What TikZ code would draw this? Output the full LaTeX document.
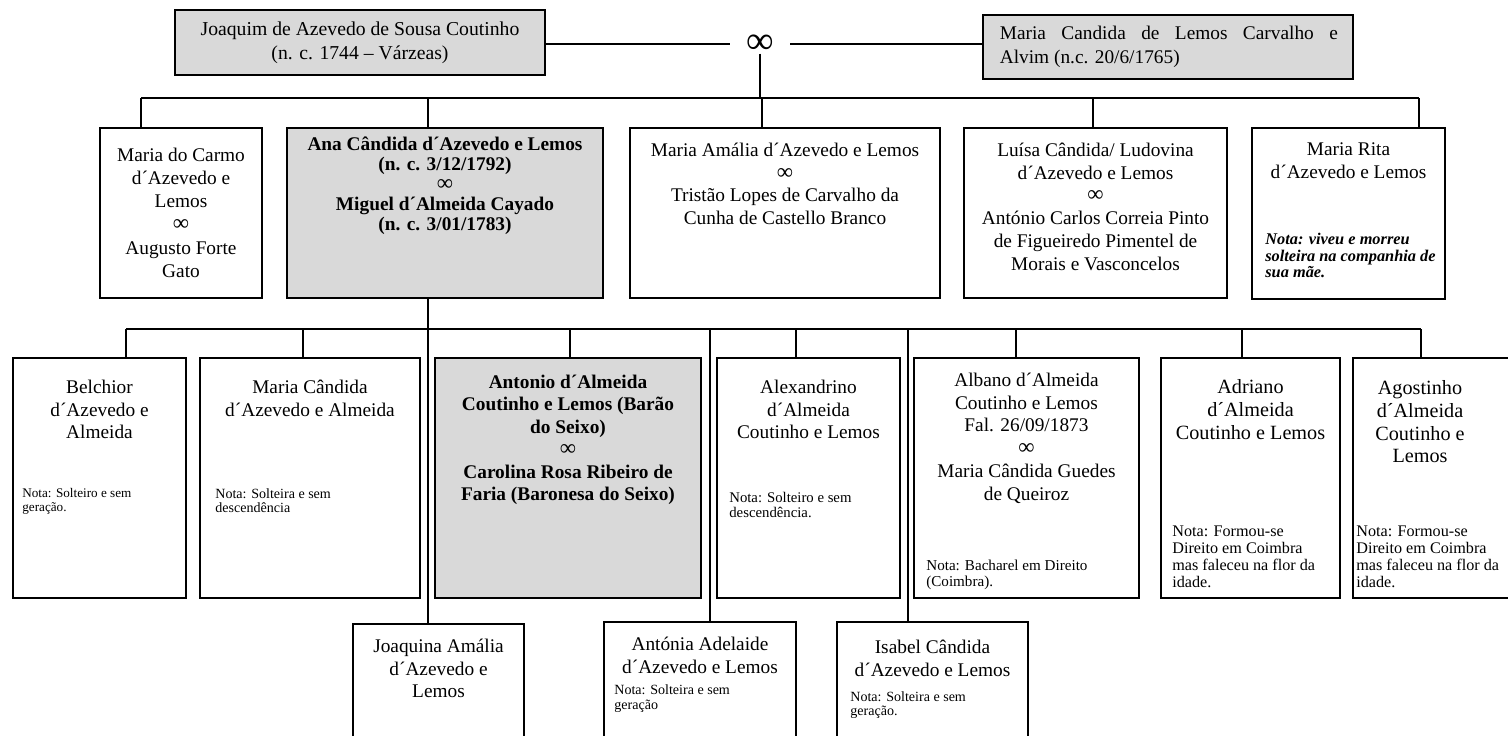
\documentclass[tikz,border=0pt]{standalone}
\usepackage{fontspec}
\setmainfont{Liberation Serif}
\usetikzlibrary{positioning,fit}

\definecolor{boxgray}{HTML}{D9D9D9}
\newcommand\marr{{\mdseries\fontsize{13}{13}\selectfont ∞}}

\begin{document}
\begin{tikzpicture}[
    x=0.2mm, y=-0.2mm,
    person/.style={draw, line width=0.6pt, inner sep=0pt},
    mainline/.style={person, fill=boxgray},
    who/.style={align=center, inner sep=0pt, font=\fontsize{11}{13}\selectfont},
    boldwho/.style={align=center, inner sep=0pt, font=\fontsize{11}{11.4}\selectfont\bfseries},
    nota/.style={align=left, anchor=north west, inner sep=0pt, font=\fontsize{8}{8.4}\selectfont},
    link/.style={line width=1.5pt},
    sublink/.style={line width=1.1pt}
]
\useasboundingbox[fill=white] (0,0) rectangle (1508,735);

% Couple at the top
\node[mainline, fit={(175,10) (545,75)}] (joaquim) {};
\node[who, font=\fontsize{11.2}{13.5}\selectfont] (joaquim-txt) at (joaquim) {Joaquim de Azevedo de Sousa Coutinho\\(n. c. 1744 – Várzeas)};
\node[mainline, fit={(983,15) (1353,79)}] (candida) {};
\node[anchor=west, inner sep=0pt, font=\fontsize{11}{14}\selectfont] (candida-txt) at ([xshift=3.4mm]candida.west)
    {\parbox{67.6mm}{\makebox[67.6mm][s]{Maria Candida de Lemos Carvalho e}\\Alvim (n.c. 20/6/1765)}};
\node[inner xsep=3.2mm, inner ysep=0pt, font=\fontsize{22}{22}\selectfont] (inf) at (760,44) {∞};
\draw[sublink] (joaquim.east |- inf) -- (inf.west);
\draw[sublink] (inf.east) -- (inf.east -| candida.west);

% Children
\coordinate (up-mdc) at (141,98);
\coordinate (up-ana) at (428,98);
\coordinate (up-amalia) at (762,98);
\coordinate (up-luisa) at (1093,98);
\coordinate (up-rita) at (1419,98);

\node[person, fit={(100,128) (262,298)}] (mdc) {};
\node[who, font=\fontsize{11}{13.2}\selectfont, below=4mm of mdc.north] (mdc-txt) {Maria do Carmo\\d´Azevedo e\\Lemos\\\marr\\Augusto Forte\\Gato};
\node[mainline, fit={(287,128) (603,298)}] (ana) {};
\node[boldwho, below=1.8mm of ana.north] (ana-txt) {Ana Cândida d´Azevedo e Lemos\\(n. c. 3/12/1792)\\\marr\\Miguel d´Almeida Cayado\\(n. c. 3/01/1783)};
\node[person, fit={(630,128) (940,298)}] (amalia) {};
\node[who, below=3mm of amalia.north] (amalia-txt) {Maria Amália d´Azevedo e Lemos\\\marr\\Tristão Lopes de Carvalho da\\Cunha de Castello Branco};
\node[person, fit={(964,128) (1227,298)}] (luisa) {};
\node[who, below=3mm of luisa.north] (luisa-txt) {Luísa Cândida/ Ludovina\\d´Azevedo e Lemos\\\marr\\António Carlos Correia Pinto\\de Figueiredo Pimentel de\\Morais e Vasconcelos};
\node[person, fit={(1252,128) (1445,299)}] (rita) {};
\node[who, below=3mm of rita.north] (rita-txt) {Maria Rita\\d´Azevedo e Lemos};
\node[nota, font=\fontsize{9.3}{9.3}\selectfont\bfseries\itshape] (rita-nota) at (1265,233) {Nota: viveu e morreu\\solteira na companhia de\\sua mãe.};

\draw[link] (inf.south) -- (inf.south |- up-amalia);
\draw[link] (up-mdc) -- (up-rita);
\draw[link] (up-mdc) -- (up-mdc |- mdc.north);
\draw[link] (up-ana) -- (up-ana |- ana.north);
\draw[link] (up-amalia) -- (up-amalia |- amalia.north);
\draw[link] (up-luisa) -- (up-luisa |- luisa.north);
\draw[link] (up-rita) -- (up-rita |- rita.north);

% Grandchildren (Ana Candida x Miguel)
\coordinate (down-belchior) at (126,329);
\coordinate (down-mcandida) at (303,329);
\coordinate (down-joaquina) at (428,329);
\coordinate (down-antonio) at (570,329);
\coordinate (down-antonia) at (710,329);
\coordinate (down-alexandrino) at (796,329);
\coordinate (down-isabel) at (908,329);
\coordinate (down-albano) at (1016,329);
\coordinate (down-adriano) at (1242,329);
\coordinate (down-agostinho) at (1421,329);

\node[person, fit={(13,358) (186,598)}] (belchior) {};
\node[who, below=4.4mm of belchior.north] (belchior-txt) {Belchior\\d´Azevedo e\\Almeida};
\node[nota, font=\fontsize{7.5}{8}\selectfont] (belchior-nota) at (22,488) {Nota: Solteiro e sem\\geração.};

\node[person, fit={(200,358) (420,598)}] (mcandida) {};
\node[who, below=4.4mm of mcandida.north] (mcandida-txt) {Maria Cândida\\d´Azevedo e Almeida};
\node[nota] (mcandida-nota) at (215,488) {Nota: Solteira e sem\\descendência};

\node[mainline, fit={(435,358) (701,598)}] (antonio) {};
\node[boldwho, font=\fontsize{11}{12.8}\selectfont\bfseries, below=3.4mm of antonio.north] (antonio-txt) {Antonio d´Almeida\\Coutinho e Lemos (Barão\\do Seixo)\\\marr\\Carolina Rosa Ribeiro de\\Faria (Baronesa do Seixo)};

\node[person, fit={(717,358) (900,598)}] (alexandrino) {};
\node[who, below=4.4mm of alexandrino.north] (alexandrino-txt) {Alexandrino\\d´Almeida\\Coutinho e Lemos};
\node[nota, font=\fontsize{8.4}{8.6}\selectfont] (alexandrino-nota) at (729,492) {Nota: Solteiro e sem\\descendência.};

\node[person, fit={(914,358) (1139,598)}] (albano) {};
\node[who, below=3mm of albano.north] (albano-txt) {Albano d´Almeida\\Coutinho e Lemos\\Fal. 26/09/1873\\\marr\\Maria Cândida Guedes\\de Queiroz};
\node[nota, font=\fontsize{8.6}{9}\selectfont] (albano-nota) at (926,560) {Nota: Bacharel em Direito\\(Coimbra).};

\node[person, fit={(1161,358) (1340,598)}] (adriano) {};
\node[who, font=\fontsize{11.5}{13}\selectfont, below=4.4mm of adriano.north] (adriano-txt) {Adriano\\d´Almeida\\Coutinho e Lemos};
\node[nota, font=\fontsize{9.2}{9.6}\selectfont] (adriano-nota) at (1172,526) {Nota: Formou-se\\Direito em Coimbra\\mas faleceu na flor da\\idade.};

\node[person, fit={(1353,358) (1530,598)}] (agostinho) {};
\node[who, font=\fontsize{11.5}{13}\selectfont, anchor=north] (agostinho-txt) at (1420,380) {Agostinho\\d´Almeida\\Coutinho e\\Lemos};
\node[nota, font=\fontsize{9.2}{9.6}\selectfont] (agostinho-nota) at (1356,526) {Nota: Formou-se\\Direito em Coimbra\\mas faleceu na flor da\\idade.};

\node[person, fit={(353,624) (524,745)}] (joaquina) {};
\node[who, below=3mm of joaquina.north] (joaquina-txt) {Joaquina Amália\\d´Azevedo e\\Lemos};

\node[person, fit={(604,622) (796,745)}] (antonia) {};
\node[who, below=3mm of antonia.north] (antonia-txt) {Antónia Adelaide\\d´Azevedo e Lemos};
\node[nota, font=\fontsize{8}{8.6}\selectfont] (antonia-nota) at (614,684) {Nota: Solteira e sem\\geração};

\node[person, fit={(837,622) (1028,745)}] (isabel) {};
\node[who, below=3.6mm of isabel.north] (isabel-txt) {Isabel Cândida\\d´Azevedo e Lemos};
\node[nota] (isabel-nota) at (850,691) {Nota: Solteira e sem\\geração.};

\draw[link] (up-ana |- ana.south) -- (down-joaquina |- joaquina.north);
\draw[link] (down-belchior) -- (down-agostinho);
\draw[sublink] (down-belchior) -- (down-belchior |- belchior.north);
\draw[sublink] (down-mcandida) -- (down-mcandida |- mcandida.north);
\draw[sublink] (down-antonio) -- (down-antonio |- antonio.north);
\draw[link] (down-antonia) -- (down-antonia |- antonia.north);
\draw[sublink] (down-alexandrino) -- (down-alexandrino |- alexandrino.north);
\draw[link] (down-isabel) -- (down-isabel |- isabel.north);
\draw[sublink] (down-albano) -- (down-albano |- albano.north);
\draw[sublink] (down-adriano) -- (down-adriano |- adriano.north);
\draw[sublink] (down-agostinho) -- (down-agostinho |- agostinho.north);

\end{tikzpicture}
\end{document}
